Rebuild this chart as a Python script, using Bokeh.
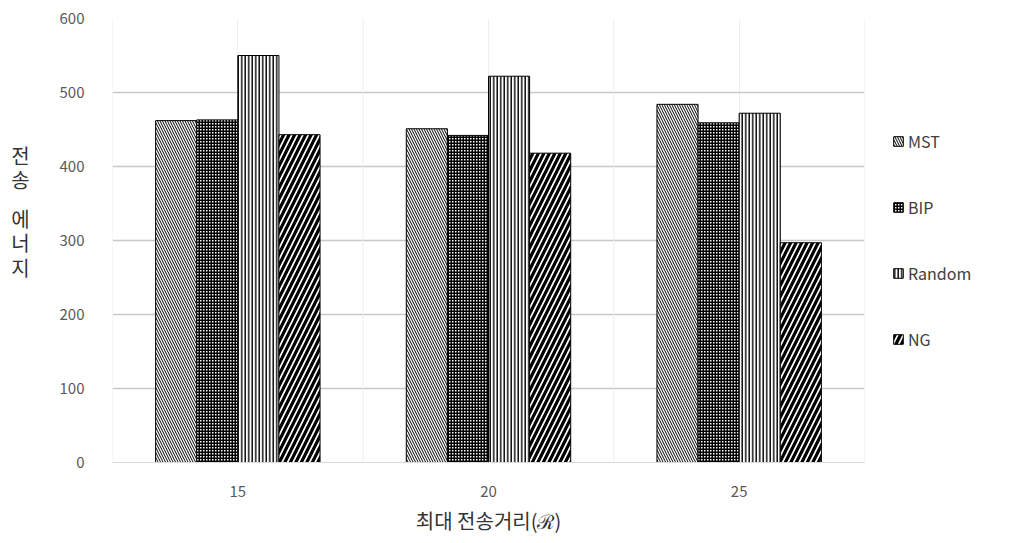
from bokeh.plotting import figure
from bokeh.layouts import row
from bokeh.models import ColumnDataSource, FactorRange, Legend, LegendItem, Span
from bokeh.core.properties import value
from bokeh.transform import dodge
from bokeh.embed import file_html
from bokeh.resources import INLINE

categories = ["15", "20", "25"]
series = ["MST", "BIP", "Random", "NG"]
mst = [462, 451, 484]
bip = [463, 442, 459]
rnd = [550, 522, 472]
ng = [443, 418, 297]
y_ticks = [0, 100, 200, 300, 400, 500, 600]
y_title_chars = ["전", "송", "에", "너", "지"]

src = ColumnDataSource(dict(cat=categories, MST=mst, BIP=bip, Random=rnd, NG=ng))

LEFT_W = 50
p = figure(frame_width=752, frame_height=444, x_range=FactorRange(*categories, range_padding=0),
           y_range=(0, 600), output_backend="svg", toolbar_location=None,
           min_border_left=112 - LEFT_W, min_border_right=149, min_border_top=18, min_border_bottom=81)
p.outline_line_color = None
p.background_fill_color = "white"

bw = 0.164
offsets = [-1.5 * bw, -0.5 * bw, 0.5 * bw, 1.5 * bw]
styles = {
    "MST": dict(fill_color="white", hatch_pattern="left_diagonal_line", hatch_color="black",
                hatch_scale=5, hatch_weight=1),
    "BIP": dict(fill_color="white", hatch_pattern="cross", hatch_color="black",
                hatch_scale=3, hatch_weight=2),
    "Random": dict(fill_color="white", hatch_pattern="vertical_line", hatch_color="black",
                   hatch_scale=3.5, hatch_weight=1.4),
    "NG": dict(fill_color="white", hatch_pattern="right_diagonal_line", hatch_color="black",
               hatch_scale=11, hatch_weight=3.2),
}
items = []
for s, off in zip(series, offsets):
    r = p.vbar(x=dodge("cat", off, range=p.x_range), top=s, width=bw, source=src,
               line_color="black", line_width=1, **styles[s])
    items.append(LegendItem(label=s, renderers=[r]))

legend = Legend(items=items, location="center_left", label_text_font="Noto Sans CJK KR",
                label_text_font_size="16px", label_text_color="#404040",
                glyph_width=12, glyph_height=12, label_height=12, spacing=42,
                border_line_color=None, background_fill_alpha=0, margin=28, padding=0,
                label_standoff=4)
p.add_layout(legend, "right")

p.yaxis.ticker = y_ticks
p.yaxis.axis_line_color = None
p.yaxis.major_tick_line_color = None
p.yaxis.minor_tick_line_color = None
p.yaxis.major_label_text_font = "Noto Sans CJK KR"
p.yaxis.major_label_text_font_size = "15px"
p.yaxis.major_label_text_color = "#595959"
p.yaxis.major_label_standoff = 22

p.xaxis.axis_line_color = "#d9d9d9"
p.xaxis.major_tick_line_color = None
p.xaxis.major_label_text_font = "Noto Sans CJK KR"
p.xaxis.major_label_text_font_size = "15px"
p.xaxis.major_label_text_color = "#595959"
p.xaxis.major_label_standoff = 17
p.xaxis.axis_label = "최대 전송거리(ℛ)"
p.xaxis.axis_label_text_font = "Noto Sans CJK KR"
p.xaxis.axis_label_text_font_size = "20px"
p.xaxis.axis_label_text_font_style = "normal"
p.xaxis.axis_label_text_color = "#333333"
p.xaxis.axis_label_standoff = 6

p.ygrid.grid_line_color = "#c8c8c8"
p.ygrid.grid_line_width = 1.5
p.xgrid.grid_line_color = "#eeeeee"
for i in range(len(categories) + 1):
    p.add_layout(Span(location=i, dimension="height", line_color="#eeeeee", line_width=1, level="underlay"))

# left strip carrying the stacked vertical y-axis title
t = figure(width=LEFT_W, height=543, x_range=(0, LEFT_W), y_range=(543, 0),
           output_backend="svg", toolbar_location=None, min_border=0)
t.axis.visible = False
t.grid.visible = False
t.outline_line_color = None
t.text(x=[20] * 5, y=[167, 197, 245, 274, 305], text=y_title_chars,
       text_align="center", text_baseline="middle",
       text_font=value("Noto Sans CJK KR"), text_font_size="20px", text_color="#333333")

layout = row(t, p)
open("out.html", "w").write(file_html(layout, INLINE))
